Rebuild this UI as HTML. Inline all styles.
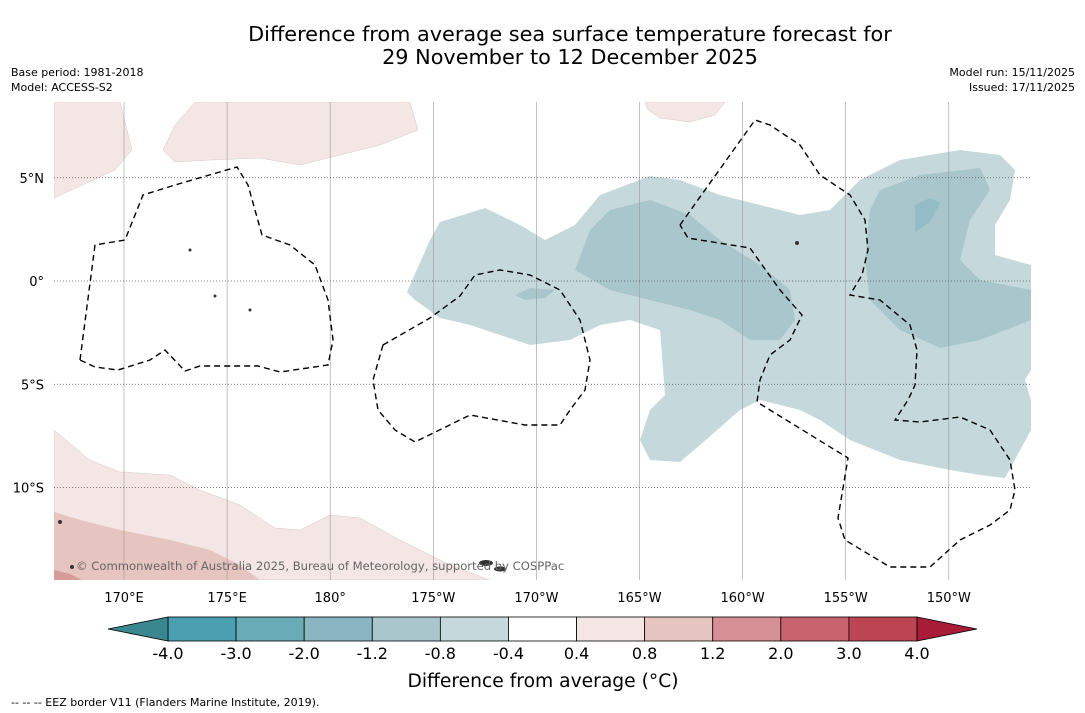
<!DOCTYPE html>
<html><head><meta charset="utf-8">
<style>
body{margin:0;background:#fff;width:1085px;height:713px;overflow:hidden;font-family:"DejaVu Sans","Liberation Sans",sans-serif;}
svg{position:absolute;left:0;top:0}
</style></head>
<body>
<svg id="chart" width="1085" height="713">
<text x="570" y="41" text-anchor="middle" font-size="20.8">Difference from average sea surface temperature forecast for</text>
<text x="570" y="64" text-anchor="middle" font-size="20.8">29 November to 12 December 2025</text>
<text x="11" y="76" font-size="11">Base period: 1981-2018</text>
<text x="11" y="91" font-size="11">Model: ACCESS-S2</text>
<text x="1075" y="76" font-size="11" text-anchor="end">Model run: 15/11/2025</text>
<text x="1075" y="91" font-size="11" text-anchor="end">Issued: 17/11/2025</text>
<defs><clipPath id="mapclip"><rect x="54" y="102" width="977" height="478"/></clipPath></defs>
<g clip-path="url(#mapclip)">
<polygon fill="#c5d9dc" points="407,292 430,240 440,222 485,208 520,225 545,240 575,225 600,195 650,176 680,180 720,195 760,205 800,215 830,210 860,180 900,160 960,150 1000,155 1015,170 1010,200 995,225 995,255 1031,265 1031,370 1025,380 1031,400 1031,430 1005,478 980,475 950,470 900,460 850,440 820,420 800,410 760,400 740,410 700,445 680,462 650,460 640,440 650,410 665,395 660,330 630,320 600,325 570,340 530,345 500,335 470,325 440,318 415,300"/>
<polygon fill="#a8c6cb" points="575,270 590,230 610,210 650,200 690,215 720,240 760,265 790,290 795,320 780,340 750,340 720,320 690,310 650,300 610,290"/>
<polygon fill="#a8c6cb" points="870,210 880,190 920,175 980,168 990,190 970,220 960,260 980,280 1031,290 1031,320 980,340 940,348 900,330 870,300 865,260"/>
<polygon fill="#93bcc6" points="915,205 930,198 940,203 930,222 915,232"/>
<polygon fill="#a8c6cb" points="515,295 530,288 555,290 545,298 525,300"/>
<polygon fill="#f3e6e4" stroke="#d9c9c7" stroke-width="0.5" points="54,102 120,102 132,150 115,170 54,198"/>
<polygon fill="#f3e6e4" stroke="#d9c9c7" stroke-width="0.5" points="195,102 410,102 418,130 380,145 340,155 300,165 260,158 210,160 175,162 163,150 175,125"/>
<polygon fill="#f3e6e4" stroke="#d9c9c7" stroke-width="0.5" points="645,102 725,102 715,115 690,122 660,118 648,110"/>
<polygon fill="#f3e6e4" stroke="#d9c9c7" stroke-width="0.5" points="54,430 90,460 120,472 170,475 200,490 240,505 275,528 300,530 330,515 360,518 400,540 450,565 490,580 54,580"/>
<polygon fill="#e6c4bf" points="54,512 80,520 120,530 170,540 210,550 240,565 260,580 54,580"/>
<polygon fill="#d99a9a" points="54,570 70,574 82,580 54,580"/>
<g id="grid"></g>
<g fill="none" stroke="#000" stroke-width="1.4" stroke-dasharray="6,4">
<polygon points="80,360 95,245 125,240 143,195 175,185 237,167 248,185 262,235 290,245 315,265 328,300 333,340 328,365 280,372 258,366 200,366 185,371 165,350 150,360 118,370 95,367"/>
<polygon points="383,345 430,318 460,296 475,275 500,270 530,275 560,290 580,320 590,360 585,390 570,410 560,425 525,425 470,415 415,442 395,430 378,410 373,380"/>
<polyline points="680,225 755,120 770,125 800,145 820,175 850,195 865,220 868,250 862,275 850,295 880,300 910,325 917,350 915,385 908,400 895,420 920,422 960,417 990,430 1010,460 1015,490 1010,510 990,525 960,540 930,567 890,567 870,555 845,540 838,518 848,458 757,402 760,380 770,355 790,340 802,315 780,290 750,248 700,240 688,238 680,225"/>
</g>
<g fill="#333">
<ellipse cx="486" cy="563" rx="7" ry="3"/><ellipse cx="500" cy="569" rx="6" ry="2.5"/>
<circle cx="60" cy="522" r="2"/><circle cx="72" cy="567" r="2"/><circle cx="797" cy="243" r="2"/>
<circle cx="190" cy="250" r="1.5"/><circle cx="215" cy="296" r="1.5"/><circle cx="250" cy="310" r="1.5"/>
</g>
<text x="76" y="570" font-size="11.6" fill="#666">© Commonwealth of Australia 2025, Bureau of Meteorology, supported by COSPPac</text>
</g>
<g id="axes" font-size="13"></g>
<g id="cbar"></g>
<text x="543" y="687" text-anchor="middle" font-size="18.7">Difference from average (°C)</text>
<text x="11" y="706" font-size="11">--  --  -- EEZ border V11 (Flanders Marine Institute, 2019).</text>
</svg>
<script>
const lonLabels=["170°E","175°E","180°","175°W","170°W","165°W","160°W","155°W","150°W"];
const lonValues=[170,175,180,185,190,195,200,205,210];
const latLabels=["5°N","0°","5°S","10°S"];
const latValues=[5,0,-5,-10];
const cbLevels=[-4.0,-3.0,-2.0,-1.2,-0.8,-0.4,0.4,0.8,1.2,2.0,3.0,4.0];
const cbColors=["#4aa0b0","#6aabb8","#8ab6c1","#a8c6cb","#c5d9dc","#ffffff","#f3e6e4","#e6c4bf","#d68f94","#c8646e","#bb4552"];
const cbExtendColors=["#3b8790","#a81c38"];
const NS="http://www.w3.org/2000/svg";
function xLon(l){return 124+(l-170)*20.62;}
function yLat(a){return 281-a*20.65;}
function mk(tag,attrs,parent){const e=document.createElementNS(NS,tag);for(const k in attrs)e.setAttribute(k,attrs[k]);parent.appendChild(e);return e;}
const grid=document.getElementById('grid'),axes=document.getElementById('axes'),cbar=document.getElementById('cbar');
lonValues.forEach((v,i)=>{
  const x=xLon(v);
  const l=mk('line',{x1:x,x2:x,y1:102,y2:580,stroke:'#999','stroke-width':0.6},grid);
  
  
  const t=mk('text',{x:x,y:602,'text-anchor':'middle'},axes);t.textContent=lonLabels[i];
  
  
});
latValues.forEach((v,i)=>{
  const y=yLat(v);
  const l=mk('line',{x1:54,x2:1031,y1:y,y2:y,stroke:'#555','stroke-width':0.7,'stroke-dasharray':'1,2'},grid);
  
  
  const t=mk('text',{x:44,y:y+5,'text-anchor':'end'},axes);t.textContent=latLabels[i];
  
  
});
const cx0=168,cx1=917,segW=(cx1-cx0)/cbColors.length,cy=617,ch=24;
cbColors.forEach((c,i)=>{
  const r=mk('rect',{x:cx0+i*segW,y:cy,width:segW,height:ch,fill:c,stroke:'#000','stroke-width':0.8},cbar);
  
  
});
const tl=mk('polygon',{points:`${cx0},${cy} ${cx0-60},${cy+ch/2} ${cx0},${cy+ch}`,fill:cbExtendColors[0],stroke:'#000','stroke-width':0.8},cbar);


const tr=mk('polygon',{points:`${cx1},${cy} ${cx1+60},${cy+ch/2} ${cx1},${cy+ch}`,fill:cbExtendColors[1],stroke:'#000','stroke-width':0.8},cbar);


cbLevels.forEach((v,i)=>{
  const t=mk('text',{x:cx0+i*segW,y:659,'text-anchor':'middle','font-size':16},cbar);
  t.textContent=v.toFixed(1);
  
  
});
</script>
</body></html>
